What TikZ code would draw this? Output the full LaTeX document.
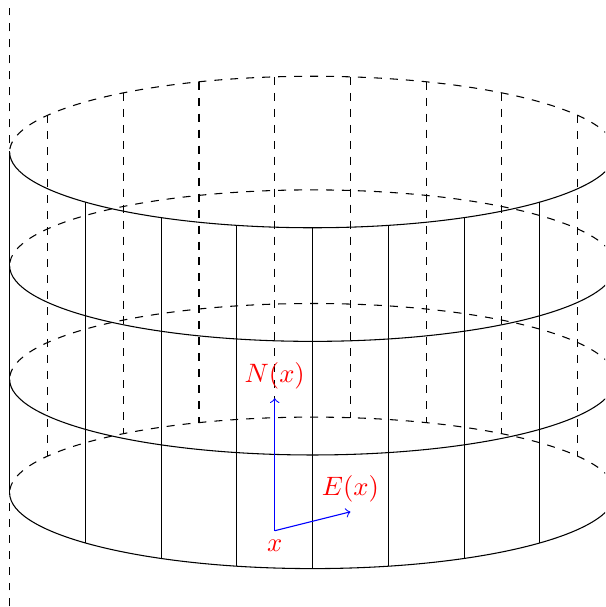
\documentclass[tikz,border=0pt]{standalone}
\begin{document}
\begin{tikzpicture}[scale=0.5,
  backline/.style={dashed},
  frontline/.style={},
  vec/.style={->,blue},
  lab/.style={red}]
\useasboundingbox (-8.254,-3.014) rectangle (7.722,13.014);
\clip (-8.254,-3.014) rectangle (7.722,13.014);
\draw[backline] (-8,-3) -- (-8,13);
\foreach \h in {0,3,6,9} {
  \draw[backline] (8,\h) arc[start angle=0,end angle=180,x radius=8,y radius=2];
  \draw[frontline] (-8,\h) arc[start angle=180,end angle=360,x radius=8,y radius=2];
}
\foreach \x in {-8,-6,...,8} {
  \draw[frontline] (\x,{9-2*sqrt(abs(1-(\x/8)^2))}) -- (\x,{-2*sqrt(abs(1-(\x/8)^2))});
}
\foreach \x in {-7,-5,...,7} {
  \draw[backline] (\x,{9+2*sqrt(1-(\x/8)^2)}) -- (\x,{2*sqrt(1-(\x/8)^2)});
}
\coordinate (o) at (-1,-1);
\coordinate (n) at (-1,2.5);
\coordinate (e) at (1,-0.5);
\draw[vec] (o) -- (n);
\draw[vec] (o) -- (e);
\node[lab,below] (ol) at (o) {$x$};
\node[lab,above] (nl) at (n) {$N(x)$};
\node[lab,above] (el) at (e) {$E(x)$};
\end{tikzpicture}
\end{document}
